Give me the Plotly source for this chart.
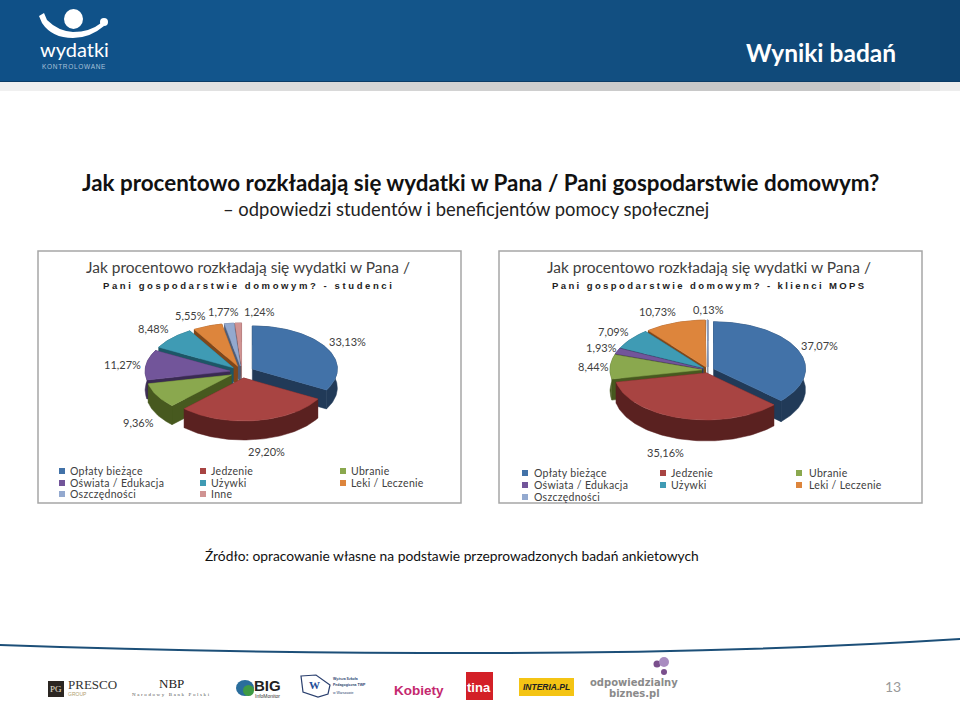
import math
import plotly.graph_objects as go

# data
categories_left = ["Opłaty bieżące", "Jedzenie", "Ubranie", "Oświata / Edukacja", "Używki",
                   "Leki / Leczenie", "Oszczędności", "Inne"]
values_left = [33.13, 29.20, 9.36, 11.27, 8.48, 5.55, 1.77, 1.24]
categories_right = ["Opłaty bieżące", "Jedzenie", "Ubranie", "Oświata / Edukacja", "Używki",
                    "Leki / Leczenie", "Oszczędności"]
values_right = [37.07, 35.16, 8.44, 1.93, 7.09, 10.73, 0.13]

title_left = "Pani gospodarstwie domowym? - studenci"
title_right = "Pani gospodarstwie domowym? - klienci MOPS"
title_common = "Jak procentowo rozkładają się wydatki w Pana /"

# styles
top_colors = ["#4272a8", "#a84442", "#8aa84e", "#72559a", "#3f9bb4", "#dd853c", "#93a9cf", "#d09392"]
side_colors = ["#213a58", "#5a2120", "#47591f", "#3a2a52", "#1d5666", "#80471a", "#4e5d78", "#7a5050"]
font_body = "Lato, 'Open Sans', sans-serif"
font_sub = "'Liberation Sans', Arial, sans-serif"

# where the data labels sit (pixels on the page)
label_pos_left = [(347, 341), (266, 451), (138, 422), (122, 364), (153, 328), (190, 315), (223, 311), (259, 311)]
label_pos_right = [(819, 345), (665, 452), (593, 366), (601, 347), (613, 331), (657, 311), (708, 309)]

fig = go.Figure()
shapes = []
annotations = []


def text(x, y, s, size=10, color="#404040", family=font_body, anchor="center", bold=False):
    if bold:
        s = "<b>" + s + "</b>"
    annotations.append(dict(x=x, y=y, text=s, showarrow=False, xanchor=anchor, yanchor="middle",
                            font=dict(size=size, color=color, family=family)))


def spaced(s, px):
    return '<span style="letter-spacing:%spx">%s</span>' % (px, s)


def rect(x0, y0, x1, y1, fill, line=None, width=1):
    shapes.append(dict(type="rect", x0=x0, y0=y0, x1=x1, y1=y1, fillcolor=fill,
                       line=dict(color=line or fill, width=width if line else 0), layer="below"))


def poly(xs, ys, color, edge=None):
    fig.add_trace(go.Scatter(x=xs, y=ys, mode="lines", fill="toself", fillcolor=color,
                             line=dict(color=edge or color, width=0.5), hoverinfo="skip"))


def draw_pie(values, cx, cy, rx, ry, depth, explode):
    total = sum(values)
    slices = []
    start = 0.0
    for i, v in enumerate(values):
        end = start + v / total * 2 * math.pi
        mid = (start + end) / 2
        ox = cx + explode * math.sin(mid)
        oy = cy - explode * ry / rx * math.cos(mid)
        slices.append((i, start, end, ox, oy))
        start = end
    # back slices first, so that the front ones cover them
    slices.sort(key=lambda s: -math.cos((s[1] + s[2]) / 2))
    for i, a0, a1, ox, oy in slices:
        n = max(2, int((a1 - a0) * 40))
        angles = [a0 + (a1 - a0) * k / n for k in range(n + 1)]
        xs = [ox + rx * math.sin(a) for a in angles]
        ys = [oy - ry * math.cos(a) for a in angles]
        # radial walls and the rim, in the dark shade
        poly([ox, xs[0], xs[0], ox], [oy, ys[0], ys[0] + depth, oy + depth], side_colors[i])
        poly([ox, xs[-1], xs[-1], ox], [oy, ys[-1], ys[-1] + depth, oy + depth], side_colors[i])
        poly(xs + xs[::-1], ys + [y + depth for y in ys[::-1]], side_colors[i])
        poly([ox] + xs + [ox], [oy] + ys + [oy], top_colors[i])


def draw_legend(names, columns_marker, columns_text, rows):
    for k, name in enumerate(names):
        col = k % 3
        row = rows[k // 3]
        fig.add_trace(go.Scatter(x=[columns_marker[col]], y=[row], mode="markers", hoverinfo="skip",
                                 marker=dict(symbol="square", size=6, color=top_colors[k])))
        text(columns_text[col], row, spaced(name, 0.3), size=10.5, anchor="left")


# header band
n_steps = 48
for k in range(n_steps):
    t = k / (n_steps - 1)
    # lighter around a third of the width, darker at both ends
    if t < 0.3:
        c = (15 + int(5 * t / 0.3), 80 + int(8 * t / 0.3), 135 + int(8 * t / 0.3))
    else:
        f = (t - 0.3) / 0.7
        c = (20 - int(6 * f), 88 - int(20 * f), 143 - int(30 * f))
    rect(960 * k / n_steps, 0, 960 * (k + 1) / n_steps + 1, 81, "rgb(%d,%d,%d)" % c)
    g = 240 - int(42 * math.sin(min(t / 0.9, 1) * math.pi / 2)) if t < 0.9 else 198 + int(40 * (t - 0.9) / 0.1)
    rect(960 * k / n_steps, 82, 960 * (k + 1) / n_steps + 1, 91, "rgb(%d,%d,%d)" % (g, g, g))
rect(0, 81, 960, 82, "#0c3c66")
text(821, 52, "Wyniki badań", size=24.5, color="white", bold=True)

# logo
shapes.append(dict(type="circle", x0=64, y0=9, x1=83, y1=29, fillcolor="white", line_width=0))
shapes.append(dict(type="circle", x0=100, y0=18, x1=108, y1=26, fillcolor="white", line_width=0))
shapes.append(dict(type="path", path="M 39 16 L 44 13 L 47 20 Q 58 31 73 32 Q 90 32 101 23 L 104 26 "
                                     "Q 90 38 73 38 Q 52 38 42 23 Z",
                   fillcolor="white", line_width=0))
text(74, 49, "wydatki", size=20, color="white")
text(74, 66, spaced("KONTROLOWANE", 0.7), size=6.5, color="#a9c2da", family=font_sub)

# headings
text(480, 182, "Jak procentowo rozkładają się wydatki w Pana / Pani gospodarstwie domowym?", size=22.4,
     color="#111111", bold=True)
text(466, 209, "– odpowiedzi studentów i beneficjentów pomocy społecznej", size=18.4, color="#222222")

# chart frames
rect(38, 251, 461, 503, "white", "#a6a6a6", 1.5)
rect(499, 251, 922, 503, "white", "#a6a6a6", 1.5)

text(248, 267, title_common, size=15.5)
text(709, 267, title_common, size=15.5)
text(248, 285, spaced(title_left, 2.6), size=9.5, color="#222222", family=font_sub, bold=True)
text(709, 285, spaced(title_right, 2.4), size=9.5, color="#222222", family=font_sub, bold=True)

draw_pie(values_left, 242, 372, 85, 43, 19, 12)
draw_pie(values_right, 708, 370, 92, 47, 21, 6)

for v, (x, y) in zip(values_left, label_pos_left):
    text(x, y, ("%.2f%%" % v).replace(".", ","), size=11)
for v, (x, y) in zip(values_right, label_pos_right):
    text(x, y, ("%.2f%%" % v).replace(".", ","), size=11)

draw_legend(categories_left, [62, 203, 343], [68, 209, 349], [471, 483, 494])
draw_legend(categories_right, [525, 663, 799], [532, 669, 807], [473, 485, 497])

text(452, 555, "Źródło: opracowanie własne na podstawie przeprowadzonych badań ankietowych", size=13.8,
     color="#111111")

# footer swoosh
shapes.append(dict(type="path", path="M 0 644 Q 220 652 480 652 Q 740 652 960 638 L 960 640 "
                                     "Q 740 654 480 654 Q 220 654 0 646 Z",
                   fillcolor="#1c4f78", line_width=0))

# sponsors
rect(48, 681, 64, 697, "#2b2622")
text(56, 689, "PG", size=9, color="#e8e0d0", family="'Liberation Serif'")
text(66, 684, "PRESCO", size=13, color="#333333", family="'Liberation Serif'", anchor="left")
text(66, 694, "GROUP", size=5, color="#b0a070", family=font_sub, anchor="left")
text(171, 683, "NBP", size=13, color="#222222", family="'Liberation Serif'")
text(171, 694, spaced("Narodowy Bank Polski", 1.6), size=5, color="#555555", family="'Liberation Serif'")
shapes.append(dict(type="circle", x0=236, y0=680, x1=254, y1=696, fillcolor="#2a6d9c", line_width=0))
shapes.append(dict(type="circle", x0=243, y0=685, x1=254, y1=696, fillcolor="#3f9a44", line_width=0))
text(267, 685, "BIG", size=15, color="#222222", family=font_sub, bold=True)
text(267, 696, "InfoMonitor", size=5, color="#333333", family=font_sub)
shapes.append(dict(type="path", path="M 301 676 L 316 675 L 330 685 L 328 694 L 318 697 L 303 692 Z",
                   fillcolor="white", line=dict(color="#2a3f6e", width=1.2)))
text(314, 685, "W", size=11, color="#1f4e99", family="'Liberation Serif'", bold=True)
text(331, 679, "Wyższa Szkoła", size=3.5, color="#2a3f6e", family=font_sub, anchor="left", bold=True)
text(331, 685, "Pedagogiczna TWP", size=3.5, color="#2a3f6e", family=font_sub, anchor="left", bold=True)
text(331, 693, "w Warszawie", size=3.5, color="#2a3f6e", family=font_sub, anchor="left")
text(419, 690, "Kobiety", size=13.5, color="#c4286e", family=font_sub, bold=True)
rect(466, 672, 493, 700, "#d32027")
text(479, 687, "tina", size=13, color="white", family=font_sub, bold=True)
rect(519, 678, 574, 696, "#f4c414")
text(546, 687, "<i>INTERIA.PL</i>", size=8.5, color="#222222", family=font_sub, bold=True)
text(634, 682, "odpowiedzialny", size=10, color="#8a8a8a", family="'DejaVu Sans'", bold=True)
text(634, 693, "biznes.pl", size=10, color="#8a8a8a", family="'DejaVu Sans'", bold=True)
for x0, y0, r, col in ((657, 664, 3.5, "#7a4f8c"), (664, 662, 5, "#a98cc0"), (664, 672, 3, "#7a4f8c")):
    shapes.append(dict(type="circle", x0=x0 - r, y0=y0 - r, x1=x0 + r, y1=y0 + r, fillcolor=col, line_width=0))
text(893, 686, "13", size=14, color="#9a9a9a")

fig.update_layout(
    width=960, height=708, showlegend=False, margin=dict(l=0, r=0, t=0, b=0),
    paper_bgcolor="white", plot_bgcolor="white",
    xaxis=dict(range=[0, 960], visible=False, fixedrange=True),
    yaxis=dict(range=[708, 0], visible=False, fixedrange=True),
    shapes=shapes, annotations=annotations,
)
# the page's default body margin would push the slide 8px down and right
fig.write_html("out.html", config=dict(displayModeBar=False),
               post_script="document.body.style.margin='0';document.documentElement.style.overflow='hidden';")
